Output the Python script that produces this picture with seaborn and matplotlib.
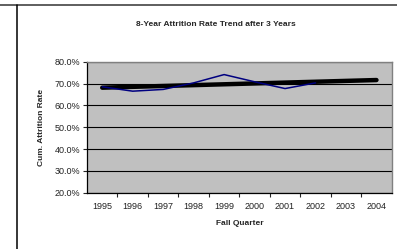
import matplotlib
matplotlib.use('Agg')
import matplotlib.pyplot as plt
import seaborn as sns
import pandas as pd
from matplotlib.lines import Line2D
from matplotlib.ticker import FuncFormatter, MultipleLocator

# data
years = [1995, 1996, 1997, 1998, 1999, 2000, 2001, 2002, 2003, 2004]
rate_years = [1995, 1996, 1997, 1998, 1999, 2000, 2001, 2002]
rate = [68.5, 66.5, 67.3, 70.3, 74.1, 70.8, 67.7, 70.3]
trend_years = [1995, 2004]
trend = [68.1, 71.6]

sns.set_style('white')
plt.rcParams['font.family'] = ['Liberation Sans', 'DejaVu Sans']

fig = plt.figure(figsize=(3.97, 2.49), dpi=100)
ax = fig.add_axes([87 / 397, 1 - 192.7 / 249, (391.7 - 87) / 397, (192.7 - 61.7) / 249])
ax.set_facecolor('#C0C0C0')

df = pd.DataFrame({'year': rate_years, 'rate': rate})
tdf = pd.DataFrame({'year': trend_years, 'rate': trend})
sns.lineplot(data=tdf, x='year', y='rate', ax=ax, color='black', linewidth=3.2,
             solid_capstyle='round', zorder=3)
sns.lineplot(data=df, x='year', y='rate', ax=ax, color='#000080', linewidth=1.1, zorder=4)

ax.set_xlim(1994.5, 2004.5)
ax.set_ylim(20, 80)
ax.yaxis.set_major_locator(MultipleLocator(10))
ax.yaxis.set_major_formatter(FuncFormatter(lambda v, p: f'{v:.1f}%'))
ax.grid(axis='y', color='black', linewidth=0.8)
ax.set_axisbelow(True)

ax.set_xticks(years)
ax.set_xticklabels([str(y) for y in years])
ax.set_xticks([y + 0.5 for y in years[:-1]], minor=True)
ax.tick_params(axis='x', which='major', length=0, pad=7, labelsize=6.5, labelcolor='#222222')
ax.tick_params(axis='x', which='minor', length=3, width=0.8, direction='out', bottom=True)
ax.tick_params(axis='y', length=3, width=0.8, direction='out', left=True, labelsize=6.5,
               pad=2, labelcolor='#222222')

for s in ['top', 'right']:
    ax.spines[s].set_color('#808080')
    ax.spines[s].set_linewidth(1)
for s in ['left', 'bottom']:
    ax.spines[s].set_color('black')
    ax.spines[s].set_linewidth(0.9)

ax.set_xlabel('Fall Quarter', fontsize=6, fontweight='bold', labelpad=6)
ax.set_ylabel('Cum. Attrition Rate', fontsize=6, fontweight='bold', labelpad=7)
fig.text(216 / 397, 1 - 25 / 249, '8-Year Attrition Rate Trend after 3 Years',
         ha='center', va='center', fontsize=6, fontweight='bold')

# outer frame lines
fig.add_artist(Line2D([0, 1], [1 - 4.7 / 249] * 2, color='#333333', linewidth=1.1,
                      transform=fig.transFigure))
fig.add_artist(Line2D([16.7 / 397] * 2, [0, 1 - 4.7 / 249], color='black', linewidth=1.1,
                      transform=fig.transFigure))

fig.savefig('out.png', dpi=100)
